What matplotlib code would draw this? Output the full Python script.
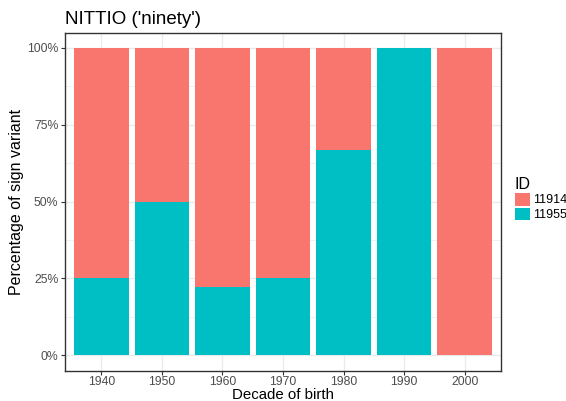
import matplotlib.pyplot as plt
import numpy as np
from matplotlib.patches import Patch

plt.rcParams['font.family'] = ['Liberation Sans', 'DejaVu Sans']

# data
decades = ['1940', '1950', '1960', '1970', '1980', '1990', '2000']
share_11955 = [0.25, 0.5, 2 / 9, 0.25, 2 / 3, 1.0, 0.0]
share_11914 = [1 - v for v in share_11955]
ids = ['11914', '11955']
colors = ['#F8766D', '#00BFC4']

fig = plt.figure(figsize=(5.66, 4.01), dpi=100)
ax = fig.add_axes([65 / 566, 1 - 370.5 / 401, (501 - 65) / 566, (370.5 - 32.5) / 401])

x = np.arange(1, len(decades) + 1)
ax.bar(x, share_11955, width=0.9, color=colors[1], zorder=2)
ax.bar(x, share_11914, width=0.9, bottom=share_11955, color=colors[0], zorder=2)

ax.set_xlim(0.4, len(decades) + 0.6)
ax.set_ylim(-0.05, 1.05)
ax.set_xticks(x)
ax.set_xticklabels(decades)
ax.set_yticks([0, 0.25, 0.5, 0.75, 1.0])
ax.set_yticklabels(['0%', '25%', '50%', '75%', '100%'])
ax.set_yticks([0.125, 0.375, 0.625, 0.875], minor=True)

ax.grid(True, which='major', color='#EBEBEB', linewidth=1.0, zorder=0)
ax.grid(True, which='minor', axis='y', color='#EBEBEB', linewidth=0.5, zorder=0)
ax.set_axisbelow(True)
for s in ax.spines.values():
    s.set_color('#333333')
    s.set_linewidth(1.0)
ax.tick_params(axis='both', which='major', colors='#333333', length=3, width=0.8,
               labelsize=8.8, labelcolor='#4D4D4D', pad=1.8)
ax.tick_params(axis='x', which='major', pad=0.8)
ax.tick_params(axis='y', which='minor', length=0)

ax.set_xlabel('Decade of birth', fontsize=10.8, color='black', labelpad=0)
ax.set_ylabel('Percentage of sign variant', fontsize=11.5, color='black', labelpad=2)
ax.set_title("NITTIO ('ninety')", fontsize=13.5, loc='left', pad=6)

handles = [Patch(facecolor=c, edgecolor='none') for c in colors]
leg = fig.legend(handles, ids, title='ID', loc='upper left',
                 bbox_to_anchor=(512 / 566, 1 - 174 / 401), frameon=False,
                 fontsize=9, title_fontsize=11.5, handlelength=1.2, handleheight=1.2,
                 handletextpad=0.25, labelspacing=0.1, borderaxespad=0, borderpad=0.2)
leg._legend_box.align = 'left'

fig.savefig('out.png', dpi=100)
